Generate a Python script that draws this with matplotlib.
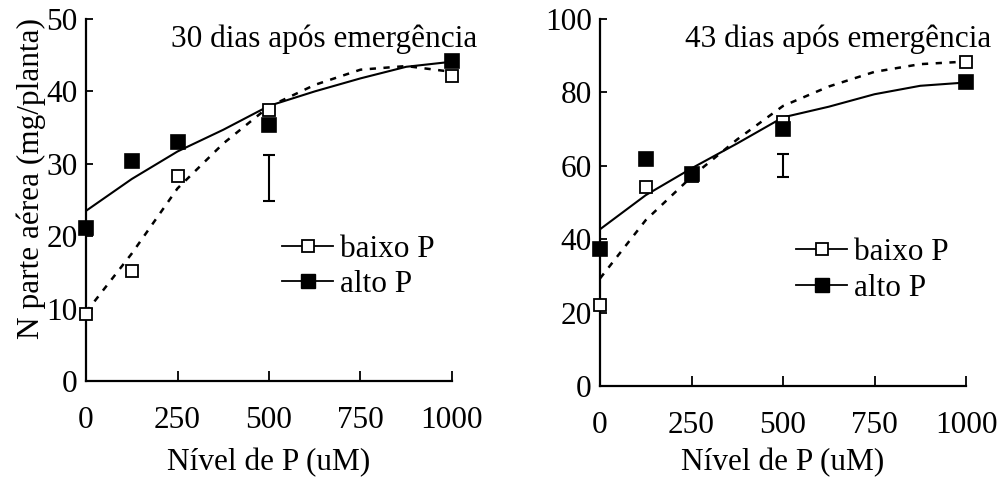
import matplotlib
matplotlib.use("Agg")
import matplotlib.pyplot as plt
from matplotlib.lines import Line2D

plt.rcParams['font.family'] = ['Liberation Serif', 'DejaVu Serif']

# measured data
x_levels = [0, 125, 250, 500, 1000]
baixo_30 = [9.3, 15.2, 28.3, 37.4, 42.1]
alto_30 = [21.1, 30.4, 33.0, 35.3, 44.2]
baixo_43 = [22.1, 54.1, 57.3, 72.0, 88.4]
alto_43 = [37.2, 61.8, 57.9, 70.0, 82.7]

# fitted trend curves
x_fit = [0, 125, 250, 375, 500, 625, 750, 875, 1000]
fit_alto_30 = [23.5, 27.9, 31.7, 34.7, 38.0, 40.0, 41.8, 43.4, 44.1]
fit_baixo_30 = [9.5, 17.6, 26.6, 32.8, 37.9, 40.9, 43.0, 43.5, 42.7]
fit_alto_43 = [42.7, 52.0, 59.3, 66.1, 73.2, 76.1, 79.5, 81.8, 82.7]
fit_baixo_43 = [29.3, 45.2, 57.0, 67.2, 76.3, 81.6, 85.6, 87.7, 88.4]

# error bars (LSD) at x = 500
err_x = 500
err_30 = (24.8, 31.2)
err_43 = (56.9, 63.1)

titles = ["30 dias após emergência", "43 dias após emergência"]
xticks = [0, 250, 500, 750, 1000]
yticks_30 = [0, 10, 20, 30, 40, 50]
yticks_43 = [0, 20, 40, 60, 80, 100]

W, H = 1007, 479
fig = plt.figure(figsize=(W / 100, H / 100), dpi=100)

FS = 22.5

def make_axes(px_left, px_right, px_top, px_bottom):
    return fig.add_axes([px_left / W, 1 - px_bottom / H,
                         (px_right - px_left) / W, (px_bottom - px_top) / H])

ax1 = make_axes(86, 452, 19, 381)
ax2 = make_axes(600, 966, 19, 386)

panels = [
    (ax1, baixo_30, alto_30, fit_baixo_30, fit_alto_30, err_30, yticks_30, titles[0], 9),
    (ax2, baixo_43, alto_43, fit_baixo_43, fit_alto_43, err_43, yticks_43, titles[1], 6),
]

for ax, b, a, fb, fa, err, yt, title, lpad in panels:
    ax.plot(x_fit, fa, color='black', lw=1.5, solid_joinstyle='miter', zorder=2)
    ax.plot(x_fit, fb, color='black', lw=1.8, linestyle=(0, (2.5, 3.0)), zorder=2)
    ax.plot(x_levels, a, linestyle='none', marker='s', ms=9.5, mfc='black',
            mec='black', mew=1.2, clip_on=False, zorder=4)
    ax.plot(x_levels, b, linestyle='none', marker='s', ms=9.0, mfc='white',
            mec='black', mew=1.3, clip_on=False, zorder=3)
    center = (err[0] + err[1]) / 2
    half = (err[1] - err[0]) / 2
    ax.errorbar([err_x], [center], yerr=[half], fmt='none', ecolor='black',
                elinewidth=1.5, capsize=4, capthick=1.5, zorder=3)
    ax.set_xlim(0, 1000)
    ax.set_ylim(yt[0], yt[-1])
    ax.set_xticks(xticks)
    ax.set_yticks(yt)
    ax.tick_params(axis='both', direction='in', labelsize=FS, width=1.3,
                   color='black')
    ax.tick_params(axis='x', length=7, pad=18)
    ax.tick_params(axis='y', length=5, pad=6)
    for s in ['top', 'right']:
        ax.spines[s].set_visible(False)
    for s in ['left', 'bottom']:
        ax.spines[s].set_linewidth(1.6)
    ax.set_xlabel("Nível de P (uM)", fontsize=FS, labelpad=lpad)
    ax.text(1.07, 0.945, title, transform=ax.transAxes, ha='right', va='center',
            fontsize=FS)
    handles = [
        Line2D([], [], color='black', lw=1.3, marker='s', ms=9, mfc='white',
               mec='black', mew=1.3),
        Line2D([], [], color='black', lw=1.3, marker='s', ms=9.5, mfc='black',
               mec='black'),
    ]
    ax.legend(handles, ["baixo P", "alto P"], loc='center left',
              bbox_to_anchor=(0.535, 0.315), frameon=False, fontsize=FS,
              handlelength=1.65, handletextpad=0.2, labelspacing=0.2,
              borderpad=0.0, borderaxespad=0.0)

ax1.set_ylabel("N parte aérea (mg/planta)", fontsize=FS, labelpad=0)
ax1.yaxis.label.set_y(0.56)

fig.savefig("out.png", dpi=100)
